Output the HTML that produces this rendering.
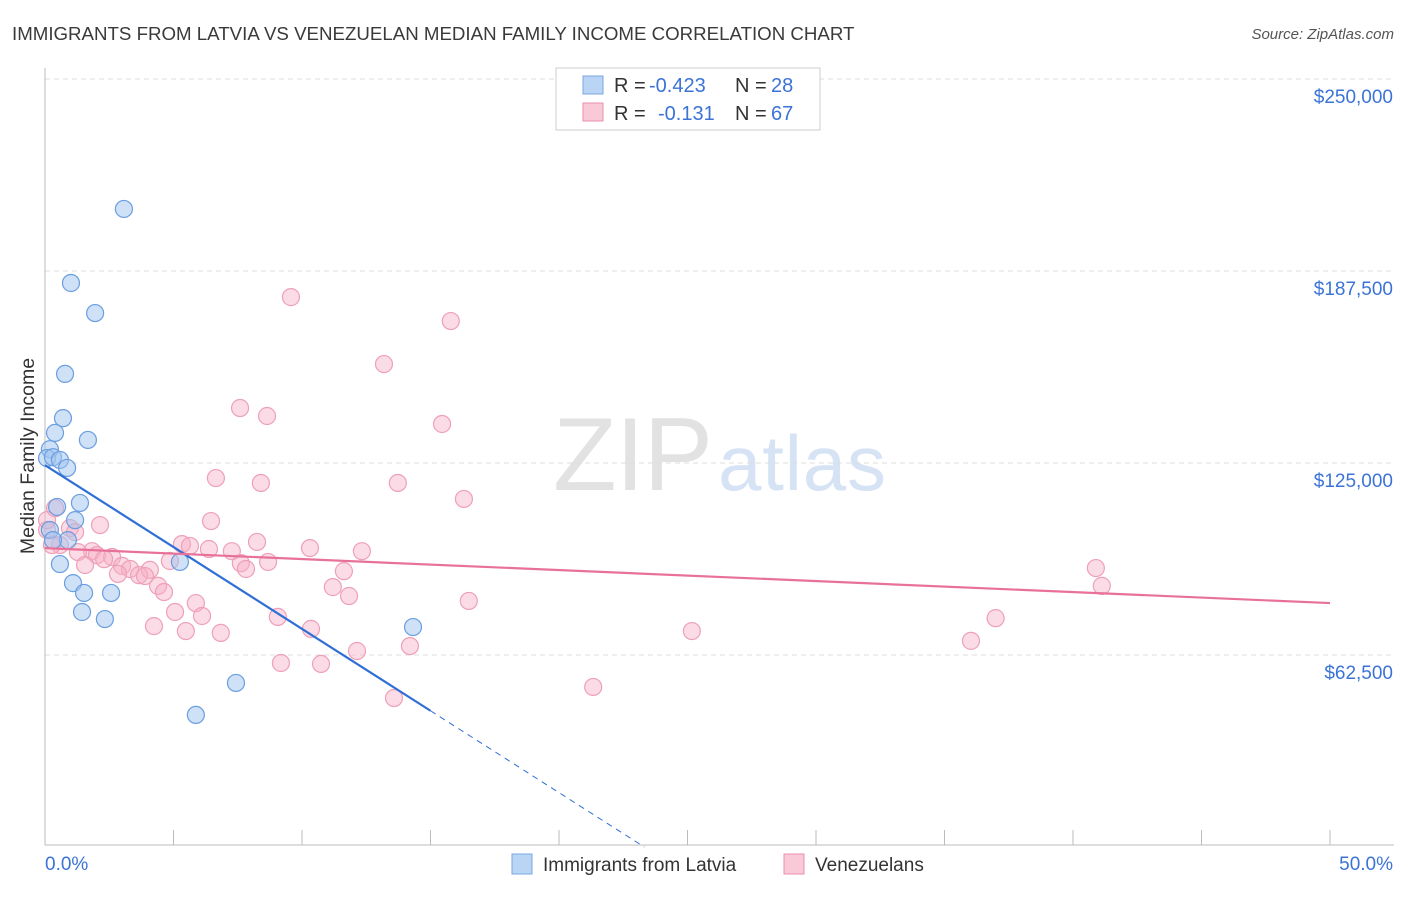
<!DOCTYPE html>
<html><head><meta charset="utf-8"><style>
body{margin:0;background:#fff;font-family:"Liberation Sans",sans-serif;}
svg text{font-family:"Liberation Sans",sans-serif;}
</style></head><body>
<svg id="chart" width="1406" height="892" xmlns="http://www.w3.org/2000/svg">
<text x="12" y="40" font-size="18.7" fill="#3a3a3a">IMMIGRANTS FROM LATVIA VS VENEZUELAN MEDIAN FAMILY INCOME CORRELATION CHART</text>
<text x="1394" y="39" font-size="15" fill="#555" font-style="italic" text-anchor="end">Source: ZipAtlas.com</text>
<text x="553" y="490" font-size="104" fill="#e2e2e2" font-family="Liberation Serif" textLength="160">ZIP</text>
<text x="718" y="490" font-size="78" fill="#d6e3f5" textLength="168">atlas</text>
<g id="grid"></g>
<g id="axes"></g>
<g id="pts"></g>
<g id="lines"></g>
<text transform="translate(34,456) rotate(-90)" font-size="19.5" fill="#333" text-anchor="middle">Median Family Income</text>
<g>
<rect x="556" y="68" width="264" height="62" fill="#fff" stroke="#ccc"/>
<rect x="583" y="76" width="20" height="18" fill="#b9d4f5" stroke="#7aa7e0"/>
<rect x="583" y="103" width="20" height="18" fill="#f9c9d7" stroke="#e98fab"/>
<text x="614" y="92" font-size="20" fill="#333">R =</text>
<text x="649" y="92" font-size="20" fill="#3b73d6">-0.423</text>
<text x="735" y="92" font-size="20" fill="#333">N =</text>
<text x="771" y="92" font-size="20" fill="#3b73d6">28</text>
<text x="614" y="120" font-size="20" fill="#333">R =</text>
<text x="658" y="120" font-size="20" fill="#3b73d6">-0.131</text>
<text x="735" y="120" font-size="20" fill="#333">N =</text>
<text x="771" y="120" font-size="20" fill="#3b73d6">67</text>
</g>
<g>
<rect x="512" y="854" width="20" height="20" fill="#b9d4f5" stroke="#7aa7e0"/>
<text x="543" y="871" font-size="19" fill="#333">Immigrants from Latvia</text>
<rect x="784" y="854" width="20" height="20" fill="#f9c9d7" stroke="#e98fab"/>
<text x="815" y="871" font-size="19" fill="#333">Venezuelans</text>
</g>
</svg>
<script>
const yTicks=[62500,125000,187500,250000];
const yTickLabels=["$62,500","$125,000","$187,500","$250,000"];
const xTicks=[0,5,10,15,20,25,30,35,40,45,50];
const blueX=[3.07,1.01,1.95,0.78,0.70,0.39,1.67,0.19,0.08,0.31,0.58,0.86,0.47,1.36,1.17,0.19,0.89,0.58,5.25,1.09,1.52,2.57,1.44,2.33,14.32,7.43,5.87,0.31];
const blueY=[207.7,183.6,173.8,154.0,139.6,134.8,132.5,129.5,126.6,126.9,126.0,123.4,110.7,112.0,106.4,103.2,99.9,92.1,92.8,85.9,82.7,82.7,76.5,74.2,71.6,53.4,43.0,99.9];
const pinkX=[9.57,15.79,13.19,7.59,8.64,15.45,6.65,8.40,13.73,16.30,0.39,6.46,2.14,0.97,0.08,1.17,8.25,5.33,5.64,0.58,0.27,10.31,6.38,7.27,12.33,1.83,1.28,2.02,2.61,2.30,4.86,7.62,8.68,1.56,3.00,3.31,4.08,7.82,11.63,40.89,2.84,3.66,3.89,4.40,11.20,41.12,4.63,11.83,5.87,16.49,5.06,6.11,9.06,36.99,4.24,10.35,5.48,25.17,6.84,36.03,14.20,12.14,9.18,10.74,21.33,13.58,0.08];
const pinkY=[179.0,171.2,157.2,142.9,140.3,137.7,120.1,118.5,118.5,113.3,110.3,106.1,104.8,103.8,103.2,102.5,99.3,98.6,98.0,98.3,98.3,97.3,97.0,96.3,96.3,96.3,96.0,95.0,94.4,93.7,93.1,92.4,92.8,91.8,91.5,90.5,90.2,90.5,89.8,90.8,88.9,88.5,88.2,85.0,84.6,85.0,83.0,81.7,79.4,80.1,76.5,75.2,74.9,74.5,71.9,71.0,70.3,70.3,69.7,67.1,65.4,63.8,59.9,59.6,52.1,48.5,106.4];
const blueTrend=[124.3,-5.33];
const pinkTrend=[97.3,79.4];
const sx=v=>45+v/50*1285;
const sy=v=>847-v/62.5*192;
const NS="http://www.w3.org/2000/svg";
function mk(tag,attrs,parent){const e=document.createElementNS(NS,tag);for(const k in attrs)e.setAttribute(k,attrs[k]);document.getElementById(parent).appendChild(e);return e;}
yTicks.forEach((t,i)=>{
  const g=mk('line',{x1:45,x2:1394,y1:sy(t/1000),y2:sy(t/1000),stroke:'#ddd','stroke-dasharray':'5,4'},'grid');
  
  
  const l=mk('text',{x:1393,y:sy(t/1000)+24,'font-size':19,fill:'#3b73d6','text-anchor':'end'},'axes');
  l.textContent=yTickLabels[i];
  
  
});
const ax=mk('line',{x1:45,x2:1394,y1:845,y2:845,stroke:'#bbb'},'axes');


const ay=mk('line',{x1:45,x2:45,y1:68,y2:845,stroke:'#bbb'},'axes');


xTicks.forEach(t=>{const k=mk('line',{x1:sx(t),x2:sx(t),y1:830,y2:845,stroke:'#bbb'},'axes');
  
  });
const x0=mk('text',{x:45,y:870,'font-size':19,fill:'#3b73d6'},'axes');x0.textContent='0.0%';


const x1=mk('text',{x:1393,y:870,'font-size':19,fill:'#3b73d6','text-anchor':'end'},'axes');x1.textContent='50.0%';


pinkX.forEach((x,i)=>{const c=mk('circle',{cx:sx(x),cy:sy(pinkY[i]),r:8.5,fill:'rgba(246,176,198,0.45)',stroke:'#eea0b8','stroke-width':1.2},'pts');
  
  });
blueX.forEach((x,i)=>{const c=mk('circle',{cx:sx(x),cy:sy(blueY[i]),r:8.5,fill:'rgba(160,196,240,0.5)',stroke:'#6a9ee0','stroke-width':1.2},'pts');
  
  });
const bAt=x=>blueTrend[0]+blueTrend[1]*x;
const bl=mk('line',{x1:sx(0),y1:sy(bAt(0)),x2:sx(15),y2:sy(bAt(15)),stroke:'#2f6fd6','stroke-width':2.2},'lines');


const xEnd=-blueTrend[0]/blueTrend[1];
const bd=mk('line',{x1:sx(15),y1:sy(bAt(15)),x2:sx(xEnd),y2:sy(0),stroke:'#2f6fd6','stroke-width':1,'stroke-dasharray':'6,5'},'lines');


const pl=mk('line',{x1:sx(0),y1:sy(pinkTrend[0]),x2:sx(50),y2:sy(pinkTrend[1]),stroke:'#e8719a','stroke-width':2.2},'lines');


</script>
</body></html>
